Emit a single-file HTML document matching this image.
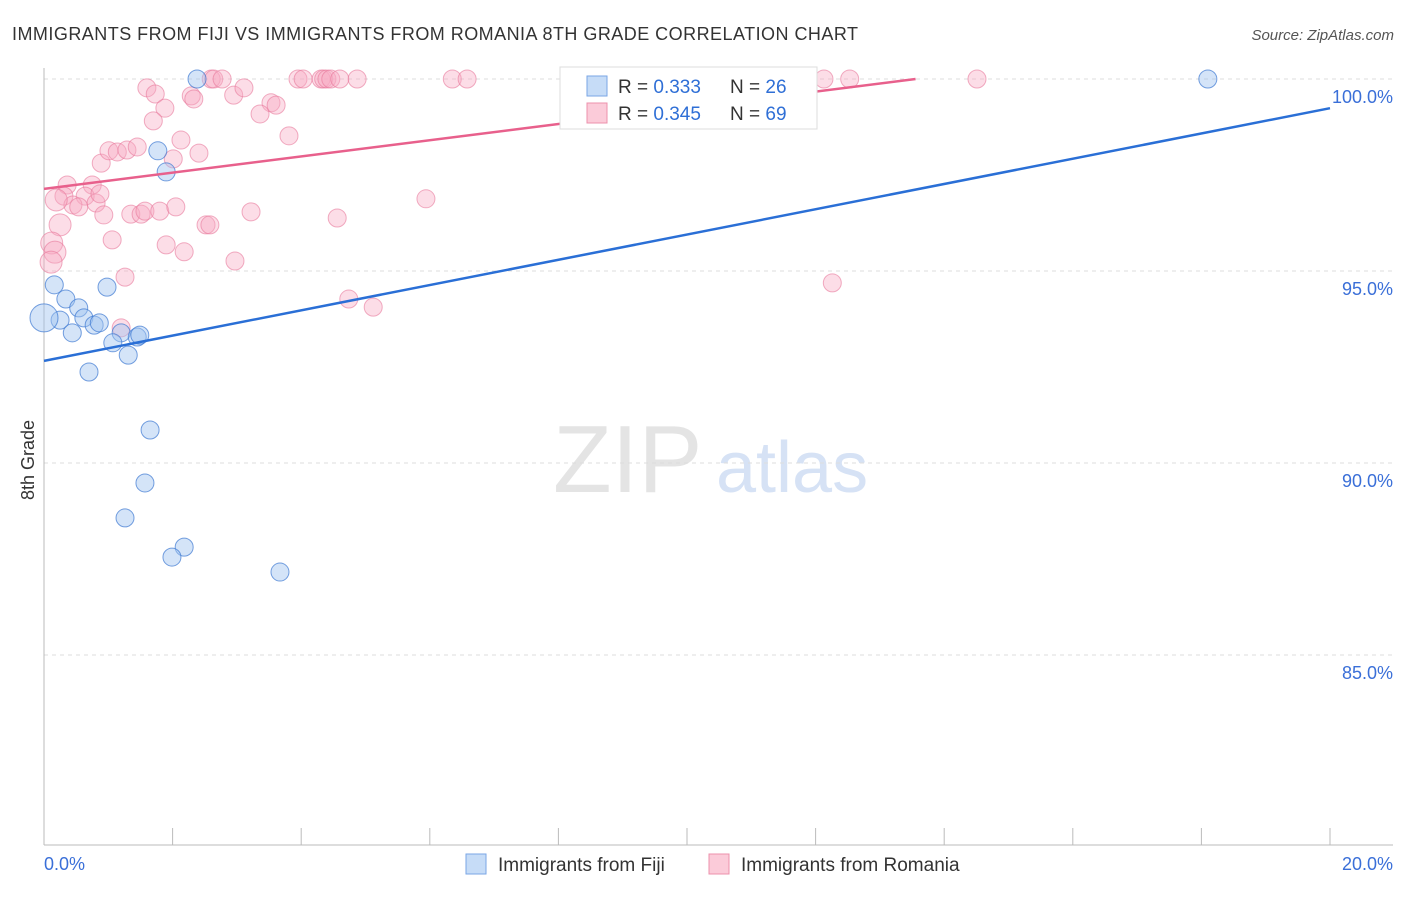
<!DOCTYPE html>
<html><head><meta charset="utf-8"><style>
body{margin:0;background:#fff;font-family:"Liberation Sans",sans-serif}
svg text{font-family:"Liberation Sans",sans-serif}
</style></head><body>
<svg id="chart" width="1406" height="892" xmlns="http://www.w3.org/2000/svg">
<text x="12" y="40" font-size="18" fill="#333" textLength="846">IMMIGRANTS FROM FIJI VS IMMIGRANTS FROM ROMANIA 8TH GRADE CORRELATION CHART</text>
<text x="1394" y="40" font-size="15" fill="#555" font-style="italic" text-anchor="end">Source: ZipAtlas.com</text>
<text x="34" y="460" font-size="18" fill="#333" text-anchor="middle" transform="rotate(-90 34 460)">8th Grade</text>
<text x="553" y="492" font-size="96" fill="#e4e4e4" font-family="Liberation Serif">ZIP</text>
<text x="716" y="492" font-size="72" fill="#d6e2f5">atlas</text>
<g id="grid"></g><g id="axes"></g><g id="pts"></g><g id="lines"></g>
<g>
<rect x="560" y="67" width="257" height="62" fill="#fff" stroke="#ddd"/>
<rect x="587" y="76" width="20" height="20" fill="#c6dcf7" stroke="#7aa6e6"/>
<rect x="587" y="103" width="20" height="20" fill="#fbcbd9" stroke="#ec90ac"/>
<text x="618" y="93" font-size="19" fill="#333">R = <tspan fill="#2f6fd6">0.333</tspan></text>
<text x="730" y="93" font-size="19" fill="#333">N = <tspan fill="#2f6fd6">26</tspan></text>
<text x="618" y="120" font-size="19" fill="#333">R = <tspan fill="#2f6fd6">0.345</tspan></text>
<text x="730" y="120" font-size="19" fill="#333">N = <tspan fill="#2f6fd6">69</tspan></text>
</g>
<g>
<rect x="466" y="854" width="20" height="20" fill="#c6dcf7" stroke="#7aa6e6"/>
<text x="498" y="871" font-size="19" fill="#333">Immigrants from Fiji</text>
<rect x="709" y="854" width="20" height="20" fill="#fbcbd9" stroke="#ec90ac"/>
<text x="741" y="871" font-size="19" fill="#333">Immigrants from Romania</text>
</g>
</svg>
<script>
const fijiX=[2.38,18.10,1.77,1.90,0.16,0.98,0.34,0.54,0.62,0.25,0.0,0.78,0.86,0.44,1.20,1.45,1.49,1.07,1.31,0.70,1.65,1.57,1.26,2.18,1.99,3.67];
const fijiY=[100,100,98.13,97.58,94.64,94.58,94.27,94.04,93.78,93.72,93.78,93.59,93.65,93.39,93.39,93.28,93.33,93.13,92.81,92.37,90.86,89.48,88.57,87.81,87.55,87.16];
const romX=[2.60,2.64,2.77,3.95,4.03,4.31,4.35,4.40,4.46,4.60,4.87,6.35,6.58,9.10,12.13,12.53,14.51,1.60,1.73,1.88,1.70,2.29,2.33,2.95,3.11,3.53,3.61,3.36,3.81,2.13,2.01,2.41,0.89,1.01,1.14,1.29,1.45,0.36,0.75,0.31,0.64,0.45,0.54,0.81,0.93,1.35,1.51,1.57,1.80,2.05,2.52,2.58,3.22,4.56,5.94,1.06,1.90,2.18,0.25,0.12,0.17,0.11,1.26,2.97,4.74,5.12,1.20,12.26,0.87,0.19];
const romY=[100,100,100,100,100,100,100,100,100,100,100,100,100,100,100,100,100,99.77,99.61,99.24,98.91,99.56,99.48,99.58,99.77,99.38,99.32,99.09,98.52,98.41,97.92,98.07,97.81,98.13,98.10,98.15,98.23,97.24,97.24,96.95,96.95,96.72,96.67,96.77,96.46,96.48,96.48,96.56,96.56,96.67,96.20,96.20,96.54,96.38,96.88,95.81,95.68,95.50,96.20,95.73,95.49,95.23,94.84,95.26,94.27,94.06,93.52,94.69,97.01,96.85];
const yTicks=[100,95,90,85];
const yTickLabels=["100.0%","95.0%","90.0%","85.0%"];
const xTickLabels=["0.0%","20.0%"];
const fijiLine=[92.66,99.24]; // y at x=0 and x=20
const romLine=[97.14,101.36];
const NS="http://www.w3.org/2000/svg";
const X0=44,X1=1330,xMin=0,xMax=20,Y100=79,pxPer=38.4;
const sx=v=>X0+(v-xMin)/(xMax-xMin)*(X1-X0);
const sy=v=>Y100+(100-v)*pxPer;
function mk(p,tag,a){const e=document.createElementNS(NS,tag);for(const k in a)e.setAttribute(k,a[k]);document.getElementById(p).appendChild(e);return e;}
yTicks.forEach((t,i)=>{
 const l=mk('grid','line',{x1:X0,x2:1393,y1:sy(t),y2:sy(t),stroke:'#ddd','stroke-dasharray':'4,4'});
 
 
 const tx=mk('axes','text',{x:1393,y:sy(t)+24,'font-size':18,fill:'#3a6fd8','text-anchor':'end'});
 tx.textContent=yTickLabels[i];
 
 
});
const ax=mk('axes','line',{x1:X0,x2:X0,y1:68,y2:845,stroke:'#bbb'});


const bx=mk('axes','line',{x1:X0,x2:1393,y1:845,y2:845,stroke:'#bbb'});


for(let i=0;i<=10;i++){
 const t=mk('axes','line',{x1:sx(i*2),x2:sx(i*2),y1:828,y2:845,stroke:'#bbb'});
 
 
}
const xl0=mk('axes','text',{x:X0,y:870,'font-size':18,fill:'#3a6fd8'});xl0.textContent=xTickLabels[0];


const xl1=mk('axes','text',{x:1393,y:870,'font-size':18,fill:'#3a6fd8','text-anchor':'end'});xl1.textContent=xTickLabels[1];


romX.forEach((v,i)=>{
 const c=mk('pts','circle',{cx:sx(v),cy:sy(romY[i]),r:v<0.3?11:9,fill:'rgba(248,170,195,0.4)',stroke:'rgba(232,120,155,0.6)','stroke-width':1});
 
 
});
fijiX.forEach((v,i)=>{
 const c=mk('pts','circle',{cx:sx(v),cy:sy(fijiY[i]),r:v<0.1?14:9,fill:'rgba(160,195,240,0.45)',stroke:'rgba(60,120,210,0.7)','stroke-width':1});
 
 
});
const fl=mk('lines','line',{x1:sx(0),y1:sy(fijiLine[0]),x2:sx(20),y2:sy(fijiLine[1]),stroke:'#2a6fd6','stroke-width':2.5});


const slope=(romLine[1]-romLine[0])/20;const xEnd=Math.min(20,(100-romLine[0])/slope);
const rl=mk('lines','line',{x1:sx(0),y1:sy(romLine[0]),x2:sx(xEnd),y2:sy(romLine[0]+slope*xEnd),stroke:'#e8608c','stroke-width':2.5});


</script>
</body></html>
